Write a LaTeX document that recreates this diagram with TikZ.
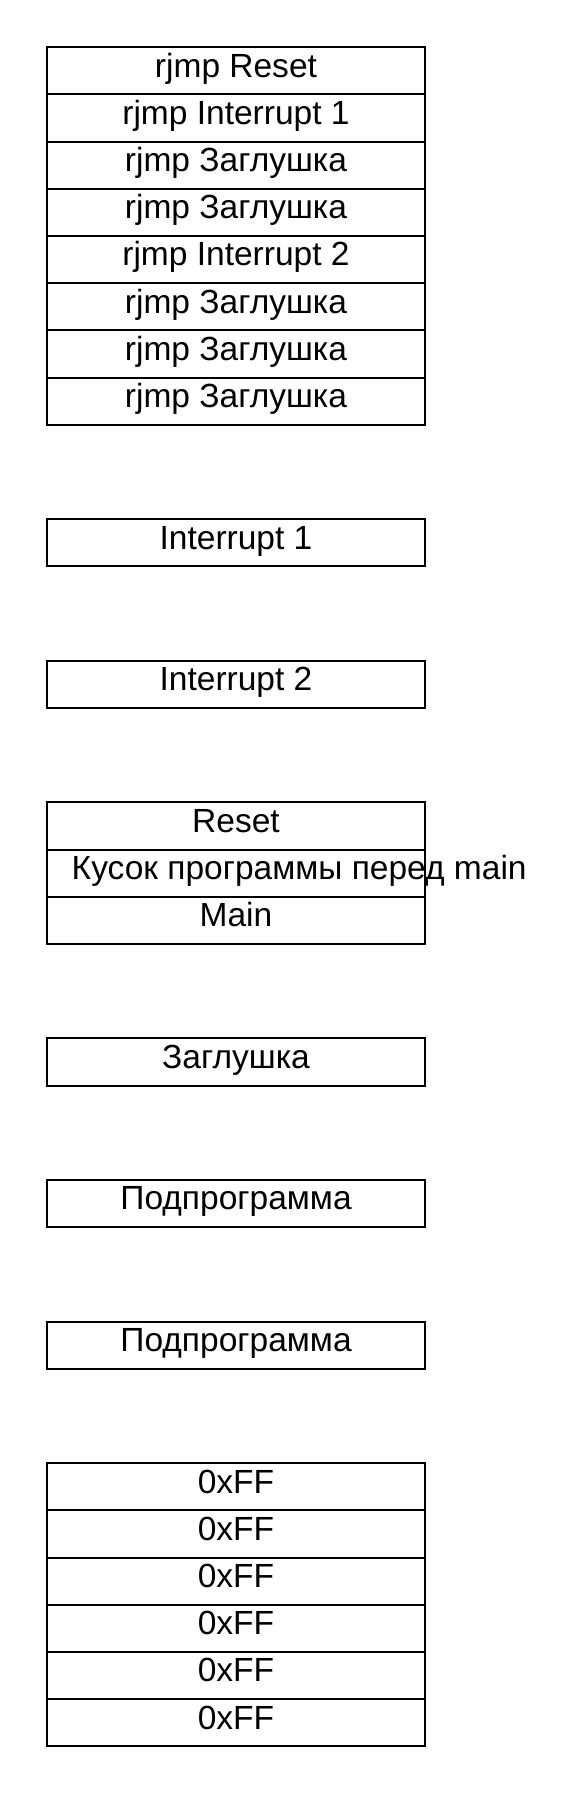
\documentclass[tikz,border=0pt]{standalone}
\usepackage{fontspec}
\setmainfont{Liberation Sans}
\usetikzlibrary{positioning}
\begin{document}
\begin{tikzpicture}[
    celltext/.style={inner sep=0pt, outer sep=0pt, text height=0.25cm, text depth=0.115cm,
        font=\fontsize{10.1}{12}\selectfont},
    cell/.style={celltext, draw, line width=0.6pt, minimum width=4cm, minimum height=0.5cm},
    node distance=0pt]
    \useasboundingbox (0,0) rectangle (6.07,-19.015);

    % vector table
    \node[cell, anchor=north west] (vec1) at (0.5,-0.5) {rjmp Reset};
    \node[cell, below=of vec1] (vec2) {rjmp Interrupt 1};
    \node[cell, below=of vec2] (vec3) {rjmp Заглушка};
    \node[cell, below=of vec3] (vec4) {rjmp Заглушка};
    \node[cell, below=of vec4] (vec5) {rjmp Interrupt 2};
    \node[cell, below=of vec5] (vec6) {rjmp Заглушка};
    \node[cell, below=of vec6] (vec7) {rjmp Заглушка};
    \node[cell, below=of vec7] (vec8) {rjmp Заглушка};

    % handlers
    \node[cell, below=1cm of vec8] (irqa) {Interrupt 1};
    \node[cell, below=1cm of irqa] (irqb) {Interrupt 2};

    \node[cell, below=1cm of irqb] (reset) {Reset};
    \node[cell, below=of reset] (premain) {};
    \node[cell, below=of premain] (main) {Main};
    \node[celltext, anchor=west] (premaintxt)
        at ([xshift=0.26cm]premain.west) {Кусок программы перед main};

    \node[cell, below=1cm of main] (stub) {Заглушка};
    \node[cell, below=1cm of stub] (suba) {Подпрограмма};
    \node[cell, below=1cm of suba] (subb) {Подпрограмма};

    % free flash
    \node[cell, below=1cm of subb] (ff1) {0xFF};
    \node[cell, below=of ff1] (ff2) {0xFF};
    \node[cell, below=of ff2] (ff3) {0xFF};
    \node[cell, below=of ff3] (ff4) {0xFF};
    \node[cell, below=of ff4] (ff5) {0xFF};
    \node[cell, below=of ff5] (ff6) {0xFF};
\end{tikzpicture}
\end{document}
